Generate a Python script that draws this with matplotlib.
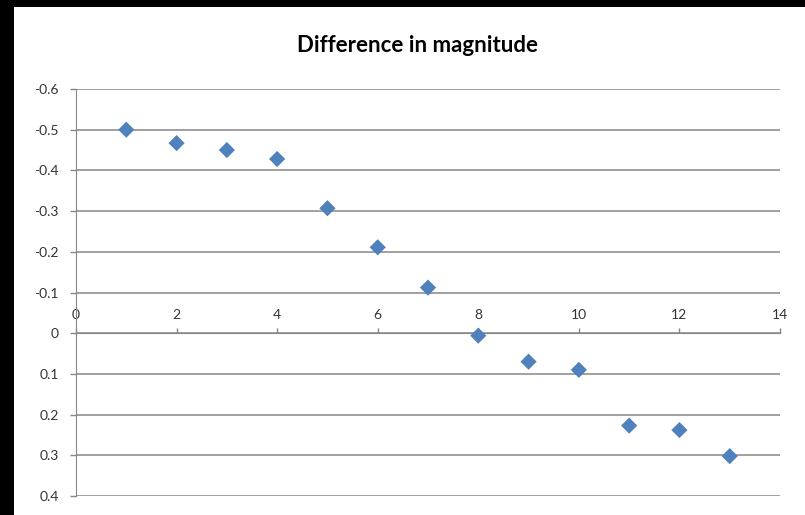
import matplotlib.pyplot as plt
from matplotlib.patches import Rectangle

# datos
x_vals = [1, 2, 3, 4, 5, 6, 7, 8, 9, 10, 11, 12, 13]
diff_mag = [-0.50, -0.467, -0.45, -0.428, -0.307, -0.211, -0.112, 0.006,
            0.070, 0.090, 0.227, 0.238, 0.302]
y_ticks = [-0.6, -0.5, -0.4, -0.3, -0.2, -0.1, 0, 0.1, 0.2, 0.3, 0.4]
y_labels = ['-0.6', '-0.5', '-0.4', '-0.3', '-0.2', '-0.1', '0', '0.1', '0.2', '0.3', '0.4']
x_ticks = [0, 2, 4, 6, 8, 10, 12, 14]

grid_col = '#868686'
text_col = '#333333'

plt.rcParams['font.family'] = ['Lato', 'DejaVu Sans']

fig = plt.figure(figsize=(8.05, 5.15), dpi=100, facecolor='white')
# borde negro a la izquierda y arriba
fig.patches.append(Rectangle((0, 0), 14 / 805, 1, transform=fig.transFigure,
                             facecolor='black', edgecolor='none'))
fig.patches.append(Rectangle((0, 1 - 7 / 515), 1, 7 / 515, transform=fig.transFigure,
                             facecolor='black', edgecolor='none'))

ax = fig.add_axes([76 / 805, 1 - 496 / 515, (780 - 76) / 805, (496 - 89) / 515])
ax.set_facecolor('none')

ax.scatter(x_vals, diff_mag, marker='D', s=68, color='#4F81BD', edgecolor='none', zorder=3)

ax.set_xlim(0, 14)
ax.set_ylim(0.4, -0.6)

# lineas de cuadricula horizontales
for t in y_ticks:
    ax.axhline(t, color=grid_col, lw=1.1, zorder=1)

ax.set_yticks(y_ticks)
ax.set_yticklabels(y_labels)
ax.set_xticks(x_ticks)

# eje x en y=0 con etiquetas arriba
ax.xaxis.tick_top()
ax.spines['top'].set_position(('data', 0))
ax.spines['top'].set_color(grid_col)
ax.spines['bottom'].set_visible(False)
ax.spines['right'].set_visible(False)
ax.spines['left'].set_color(grid_col)

ax.tick_params(axis='x', direction='out', length=3.5, width=1, color=grid_col,
               pad=5, labelsize=10, labelcolor=text_col)
ax.tick_params(axis='y', direction='out', length=4.5, width=1, color=grid_col,
               pad=8, labelsize=10, labelcolor=text_col)

fig.text(417 / 805, 1 - 45 / 515, 'Difference in magnitude', ha='center', va='center',
         fontsize=16, fontweight='bold', color='black')

fig.savefig('out.png', dpi=100, facecolor=fig.get_facecolor())
